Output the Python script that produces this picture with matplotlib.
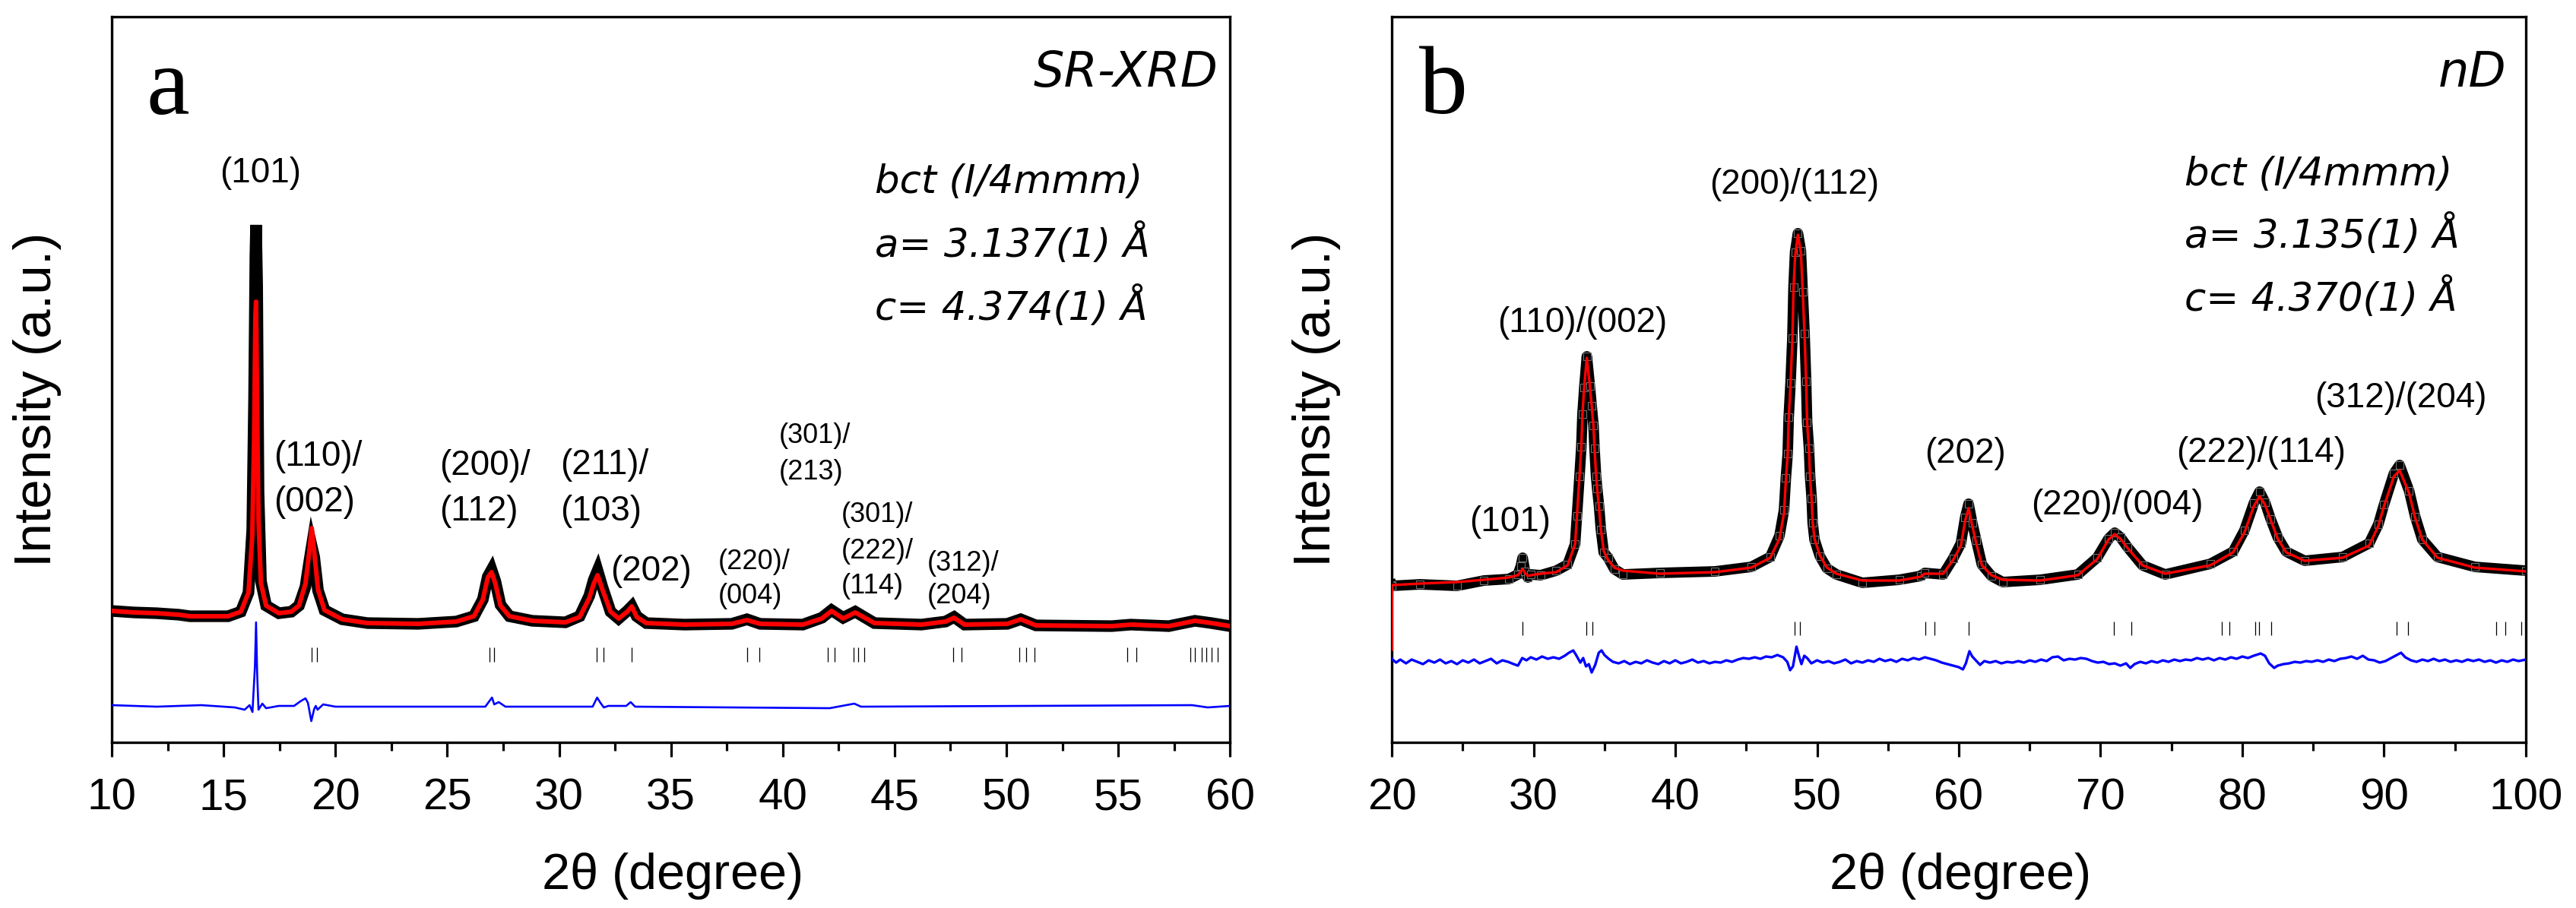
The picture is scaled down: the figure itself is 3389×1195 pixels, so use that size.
import matplotlib
matplotlib.use("Agg")
import matplotlib.pyplot as plt
from matplotlib.ticker import MultipleLocator

plt.rcParams['font.family'] = ['Liberation Sans', 'DejaVu Sans']

# ---------------------------------------------------------------------------
# Panel a : SR-XRD  (intensity in arbitrary units)
# ---------------------------------------------------------------------------
tth_a = [10.0, 11.0, 12.0, 13.0, 13.5, 14.5, 15.2, 15.77, 16.11, 16.28,
         16.36, 16.42, 16.45, 16.50, 16.56, 16.67, 16.9, 17.47, 18.03, 18.37,
         18.66, 18.83, 18.94, 19.05, 19.22, 19.51, 20.3, 21.43, 23.7, 25.4,
         26.19, 26.59, 26.81, 26.98, 27.15, 27.38, 27.78, 28.8, 30.28, 30.92,
         31.35, 31.55, 31.72, 31.94, 32.3, 32.66, 33.05, 33.25, 33.47, 33.9,
         35.6, 37.72, 38.4, 38.99, 40.9, 41.75, 42.18, 42.7, 43.24, 44.1,
         46.2, 47.28, 47.66, 48.13, 50.04, 50.64, 51.32, 54.71, 55.56, 57.26,
         58.43, 59.17, 60.0]
calc_a = [173, 171, 170, 168, 166, 166, 166, 172, 197, 271,
          396, 561, 580, 437, 292, 209, 180, 170, 172, 180,
          209, 251, 282, 251, 201, 174, 162, 157, 156, 159,
          166, 188, 217, 224, 209, 180, 166, 160, 158, 165,
          190, 209, 220, 201, 172, 163, 172, 179, 165, 157,
          155, 156, 161, 156, 155, 163, 173, 163, 171, 157,
          155, 159, 164, 155, 156, 162, 154, 153, 155, 153,
          160, 157, 153]
obs_a = [173, 171, 170, 168, 166, 166, 166, 172, 197, 280,
         450, 640, 681, 600, 330, 212, 180, 170, 172, 180,
         205, 238, 258, 244, 200, 174, 162, 157, 156, 159,
         166, 188, 218, 227, 212, 181, 166, 160, 158, 166,
         193, 214, 226, 204, 172, 163, 173, 179, 166, 157,
         155, 156, 162, 156, 155, 164, 174, 164, 172, 157,
         155, 159, 165, 155, 156, 162, 154, 153, 155, 153,
         160, 157, 153]

tth_a_diff = [10.0, 12.0, 14.0, 15.5, 15.94, 16.16, 16.29, 16.40, 16.45, 16.50,
              16.56, 16.73, 16.9, 17.47, 18.15, 18.43, 18.66, 18.77, 18.92, 19.05,
              19.12, 19.2, 19.45, 20.0, 26.7, 26.9, 27.0, 27.1, 27.3, 27.6,
              31.5, 31.7, 31.85, 32.0, 32.2, 33.0, 33.2, 33.4, 42.1, 43.2,
              43.5, 58.3, 59.0, 60.0]
diff_a = [49, 47, 49, 46, 43, 49, 40, 100, 158, 90,
          43, 51, 45, 48, 48, 54, 58, 52, 28, 44,
          48, 43, 50, 47, 47, 55, 59, 50, 53, 47,
          47, 59, 52, 46, 48, 48, 53, 47, 45, 51,
          47, 49, 46, 48]

bragg_a = [16.45, 18.92, 19.19, 26.90, 27.09, 31.67, 31.99, 33.25, 38.40, 38.95,
           42.00, 42.31, 43.18, 43.38, 43.66, 47.62, 47.99, 50.57, 50.89, 51.25,
           55.39, 55.81, 58.21, 58.42, 58.74, 58.95, 59.16, 59.44]

# ---------------------------------------------------------------------------
# Panel b : neutron diffraction
# ---------------------------------------------------------------------------
tth_b = [20.0, 20.02, 22.0, 24.6, 26.5, 28.25, 28.9, 29.1, 29.23, 29.4,
         29.6, 29.8, 30.5, 31.6, 32.4, 32.93, 33.06, 33.24, 33.37, 33.45,
         33.58, 33.76, 33.97, 34.10, 34.23, 34.3, 34.41, 34.49, 34.62, 34.75,
         34.95, 35.26, 35.7, 36.3, 38.9, 42.8, 45.36, 46.7, 47.35, 47.67,
         47.8, 47.93, 48.0, 48.13, 48.26, 48.34, 48.45, 48.65, 48.86, 48.99,
         49.12, 49.23, 49.30, 49.43, 49.51, 49.62, 49.69, 49.82, 50.2, 50.7,
         51.37, 53.2, 55.8, 57.3, 57.6, 58.9, 59.6, 60.15, 60.45, 60.69,
         60.95, 61.23, 61.63, 62.3, 63.1, 65.75, 68.4, 69.76, 70.56, 71.0,
         71.4, 71.9, 72.96, 74.56, 77.75, 79.35, 80.15, 80.82, 81.22, 81.6,
         82.0, 82.5, 83.1, 84.4, 87.08, 88.95, 89.6, 90.0, 90.7, 91.1,
         91.77, 92.2, 92.7, 93.77, 96.4, 100.0]
calc_b = [122, 207, 209, 211, 214, 217, 220, 225, 228, 223,
          219, 220, 222, 224, 233, 261, 298, 350, 389, 432,
          470, 506, 470, 443, 415, 387, 352, 333, 308, 280,
          252, 240, 230, 226, 222, 224, 230, 243, 268, 302,
          345, 380, 426, 472, 530, 597, 640, 668, 645, 592,
          536, 474, 421, 385, 350, 318, 290, 268, 246, 230,
          222, 213, 213, 218, 222, 222, 240, 259, 292, 308,
          285, 262, 233, 220, 214, 213, 220, 241, 267, 274,
          268, 256, 233, 222, 233, 250, 276, 311, 324, 313,
          293, 268, 250, 239, 243, 259, 285, 311, 350, 358,
          328, 295, 267, 243, 230, 225]
obs_b = [207, 206, 208, 206, 213, 215, 221, 232, 243, 225,
         217, 221, 220, 226, 234, 261, 298, 350, 389, 432,
         467, 508, 469, 443, 417, 387, 350, 334, 311, 280,
         250, 243, 228, 221, 223, 225, 231, 244, 272, 306,
         348, 380, 428, 473, 532, 599, 645, 670, 647, 593,
         538, 475, 421, 387, 350, 321, 289, 267, 245, 229,
         221, 210, 214, 219, 223, 221, 242, 262, 296, 314,
         289, 266, 234, 219, 211, 214, 221, 243, 268, 276,
         270, 257, 233, 221, 235, 251, 279, 315, 330, 316,
         294, 270, 251, 239, 244, 262, 287, 313, 354, 365,
         331, 297, 267, 244, 231, 226]

tth_b_diff = [20.0, 20.3, 20.6, 21.0, 21.4, 21.8, 22.2, 22.6, 23.0, 23.4,
              23.8, 24.2, 24.6, 25.0, 25.4, 25.8, 26.2, 26.6, 27.0, 27.4,
              27.8, 28.2, 28.6, 28.9, 29.2, 29.5, 29.8, 30.2, 30.6, 31.0,
              31.4, 31.8, 32.2, 32.5, 32.8, 33.0, 33.3, 33.5, 33.7, 33.9,
              34.1, 34.35, 34.6, 34.8, 35.0, 35.3, 35.6, 36.0, 36.4, 36.8,
              37.2, 37.6, 38.0, 38.4, 38.8, 39.2, 39.6, 40.0, 40.4, 40.8,
              41.2, 41.6, 42.0, 42.4, 42.8, 43.2, 43.6, 44.0, 44.4, 44.8,
              45.2, 45.6, 46.0, 46.4, 46.8, 47.2, 47.6, 47.9, 48.1, 48.3,
              48.55, 48.75, 48.9, 49.1, 49.3, 49.6, 50.0, 50.4, 50.8, 51.2,
              51.6, 52.0, 52.4, 52.8, 53.2, 53.6, 54.0, 54.4, 54.8, 55.2,
              55.6, 56.0, 56.4, 56.8, 57.2, 57.6, 58.0, 58.4, 58.8, 59.2,
              59.6, 60.0, 60.29, 60.5, 60.75, 60.95, 61.2, 61.5, 61.8, 62.2,
              62.6, 63.0, 63.4, 63.8, 64.2, 64.6, 65.0, 65.4, 65.8, 66.2,
              66.6, 67.0, 67.4, 67.8, 68.2, 68.6, 69.0, 69.4, 69.8, 70.2,
              70.6, 71.0, 71.4, 71.8, 72.1, 72.4, 72.8, 73.2, 73.6, 74.0,
              74.4, 74.8, 75.2, 75.6, 76.0, 76.4, 76.8, 77.2, 77.6, 78.0,
              78.4, 78.8, 79.2, 79.6, 80.0, 80.4, 80.8, 81.3, 81.6, 81.9,
              82.25, 82.5, 82.9, 83.3, 83.7, 84.1, 84.5, 84.9, 85.3, 85.7,
              86.1, 86.5, 86.9, 87.3, 87.7, 88.1, 88.5, 88.9, 89.3, 89.7,
              90.1, 90.5, 90.9, 91.2, 91.5, 91.9, 92.3, 92.7, 93.1, 93.5,
              93.9, 94.3, 94.7, 95.1, 95.5, 95.9, 96.3, 96.7, 97.1, 97.5,
              97.9, 98.3, 98.7, 99.1, 99.5, 100.0]
diff_b = [110, 105, 109, 104, 109, 106, 103, 108, 105, 109,
          104, 107, 103, 108, 105, 109, 104, 107, 110, 104,
          108, 106, 103, 101, 111, 108, 112, 109, 113, 110,
          112, 110, 114, 118, 121, 115, 105, 111, 100, 103,
          92, 102, 118, 121, 115, 110, 106, 104, 107, 103,
          106, 104, 108, 105, 103, 107, 104, 108, 104, 106,
          109, 105, 107, 104, 106, 105, 108, 106, 109, 111,
          110, 112, 110, 113, 112, 115, 112, 106, 95, 100,
          126, 112, 103, 114, 111, 104, 108, 105, 107, 104,
          106, 109, 104, 107, 105, 108, 106, 110, 107, 109,
          106, 110, 108, 111, 109, 112, 110, 108, 105, 103,
          101, 99, 96, 104, 120, 113, 108, 102, 107, 105,
          107, 104, 106, 105, 107, 105, 108, 106, 109, 107,
          112, 113, 108, 110, 109, 111, 110, 107, 105, 106,
          103, 104, 101, 104, 98, 103, 106, 104, 107, 105,
          108, 106, 109, 107, 109, 108, 111, 109, 111, 108,
          111, 109, 112, 110, 113, 111, 114, 117, 114, 104,
          98, 101, 103, 104, 106, 105, 107, 106, 108, 106,
          109, 107, 110, 111, 113, 110, 114, 109, 108, 105,
          107, 111, 115, 118, 112, 108, 106, 109, 107, 110,
          107, 109, 106, 108, 106, 109, 107, 109, 106, 108,
          105, 108, 106, 109, 107, 109]

bragg_b = [29.23, 33.70, 34.17, 48.44, 48.80, 57.62, 58.30, 60.69, 70.96, 72.16,
           78.55, 79.09, 80.90, 81.17, 82.04, 90.90, 91.69, 97.90, 98.57, 99.68]

labels_a = ["(101)", "(110)/", "(002)", "(200)/", "(112)", "(211)/", "(103)",
            "(202)", "(301)/", "(213)", "(220)/", "(004)", "(301)/", "(222)/",
            "(114)", "(312)/", "(204)"]
labels_b = ["(101)", "(110)/(002)", "(200)/(112)", "(202)", "(220)/(004)",
            "(222)/(114)", "(312)/(204)"]

# ---------------------------------------------------------------------------
fig = plt.figure(figsize=(33.89, 11.95), dpi=100)
ax_a = fig.add_axes([0.0434, 0.1824, 0.4341, 0.7992])
ax_b = fig.add_axes([0.5403, 0.1824, 0.4402, 0.7992])


def style_axes(ax, xmin, xmax, major, minor):
    ax.set_xlim(xmin, xmax)
    ax.set_ylim(0, 955)
    ax.set_yticks([])
    ax.xaxis.set_major_locator(MultipleLocator(major))
    ax.xaxis.set_minor_locator(MultipleLocator(minor))
    for sp in ax.spines.values():
        sp.set_linewidth(2.4)
    ax.tick_params(axis='x', which='major', direction='out', length=13.7,
                   width=2.3, labelsize=42, pad=20)
    ax.tick_params(axis='x', which='minor', direction='out', length=8, width=2.3)
    ax.set_xlabel(r'2$\mathregular{\theta}$ (degree)', fontsize=48, labelpad=30)
    ax.set_ylabel('Intensity (a.u.)', fontsize=50)
    ax.yaxis.set_label_coords(-0.045, 0.472)


# panel a
ax_a.plot(tth_a, obs_a, color='black', lw=11, solid_joinstyle='miter', zorder=2)
ax_a.plot(tth_a, calc_a, color='red', lw=4.3, zorder=3)
ax_a.plot(tth_a_diff, diff_a, color='blue', lw=1.9, zorder=4)
ax_a.vlines(bragg_a, 106, 125, color='black', lw=0.9, zorder=1)
style_axes(ax_a, 10, 60, 5, 2.5)

# panel b
ax_b.plot(tth_b, obs_b, color='black', lw=10, zorder=2)
ax_b.plot(tth_b, obs_b, ls='none', marker='s', ms=7, mfc='black',
          mec='0.45', mew=0.8, zorder=2)
ax_b.plot(tth_b, calc_b, color='red', lw=2.4, zorder=3)
ax_b.plot(tth_b_diff, diff_b, color='blue', lw=2.4, zorder=4)
ax_b.vlines(bragg_b, 141, 159, color='black', lw=0.9, zorder=1)
style_axes(ax_b, 20, 100, 10, 5)

# panel letters and titles
serif = dict(family='Liberation Serif', fontsize=92)
ax_a.text(0.031, 0.866, 'a', transform=ax_a.transAxes, va='baseline', **serif)
ax_b.text(0.024, 0.867, 'b', transform=ax_b.transAxes, va='baseline', **serif)

ital = dict(family='DejaVu Sans', style='oblique')
ax_a.text(0.989, 0.904, 'SR-XRD', transform=ax_a.transAxes, ha='right',
          va='baseline', fontsize=46, **ital)
ax_b.text(0.9826, 0.904, 'nD', transform=ax_b.transAxes, ha='right',
          va='baseline', fontsize=46, **ital)

cell_a = ['bct (I/4mmm)', 'a= 3.137(1) Å', 'c= 4.374(1) Å']
cell_b = ['bct (I/4mmm)', 'a= 3.135(1) Å', 'c= 4.370(1) Å']
for txt, yy in zip(cell_a, [0.757, 0.669, 0.582]):
    ax_a.text(0.6825, yy, txt, transform=ax_a.transAxes, va='baseline',
              fontsize=37, **ital)
for txt, yy in zip(cell_b, [0.7675, 0.6817, 0.5948]):
    ax_b.text(0.699, yy, txt, transform=ax_b.transAxes, va='baseline',
              fontsize=37, **ital)

# reflection labels, panel a (position, alignment, font size)
pos_a = [(16.66, 737, 'center', 33), (17.24, 364, 'left', 33), (17.24, 304, 'left', 33),
         (24.65, 352, 'left', 33), (24.65, 292, 'left', 33),
         (30.07, 353, 'left', 33), (30.07, 292, 'left', 33),
         (32.3, 213, 'left', 33),
         (39.84, 394, 'left', 26), (39.84, 346, 'left', 26),
         (37.12, 228, 'left', 26), (37.12, 183, 'left', 26),
         (42.6, 290, 'left', 26), (42.6, 242, 'left', 26), (42.6, 196, 'left', 26),
         (46.47, 226, 'left', 26), (46.47, 183, 'left', 26)]
for txt, (x, y, ha, fs) in zip(labels_a, pos_a):
    ax_a.text(x, y, txt, ha=ha, va='baseline', fontsize=fs)

pos_b = [(28.36, 278), (33.45, 540), (48.4, 722), (60.43, 368),
         (71.2, 300), (81.3, 369), (91.15, 441)]
for txt, (x, y) in zip(labels_b, pos_b):
    ax_b.text(x, y, txt, ha='center', va='baseline', fontsize=33)

fig.savefig('out.png', dpi=100)
